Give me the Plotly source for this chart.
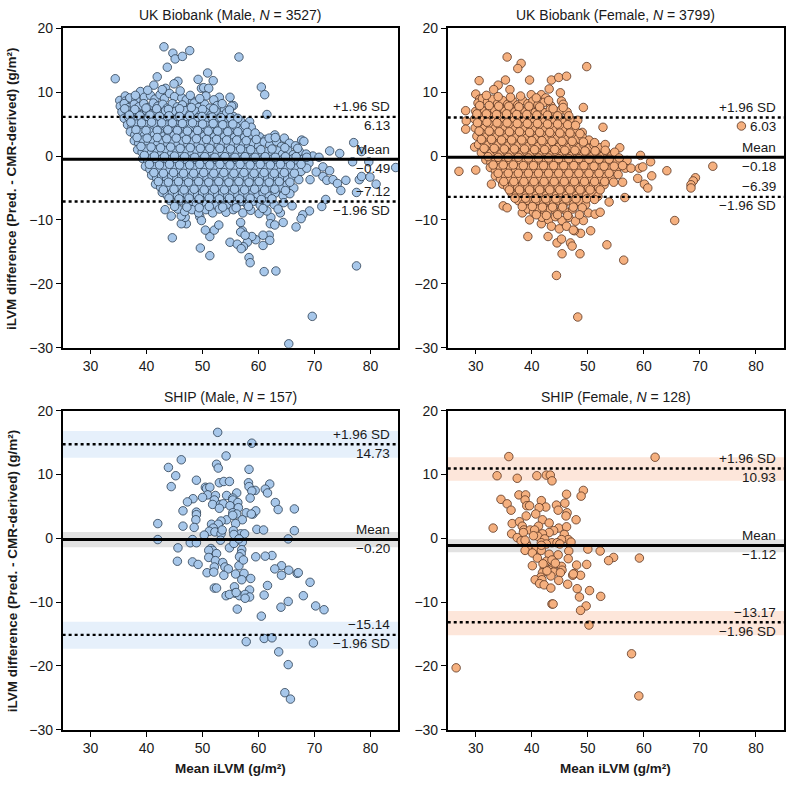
import plotly.graph_objects as go

# ---------------- DATA ----------------
panel_titles = ["UK Biobank (Male, <i>N</i> = 3527)", "UK Biobank (Female, <i>N</i> = 3799)",
                "SHIP (Male, <i>N</i> = 157)", "SHIP (Female, <i>N</i> = 128)"]
mean_diff = [-0.49, -0.18, -0.20, -1.12]
upper_loa = [6.13, 6.03, 14.73, 10.93]
lower_loa = [-7.12, -6.39, -15.14, -13.17]
# confidence bands (SHIP only): [lower, upper]
ship_m_bands = [[12.6, 16.8], [-1.4, 1.0], [-17.3, -13.1]]
ship_f_bands = [[9.0, 12.7], [-2.2, -0.15], [-15.2, -11.4]]
x_ticks = [30, 40, 50, 60, 70, 80]
y_ticks = [-30, -20, -10, 0, 10, 20]

ukb_male_points = [
    (34.4,12.1),(43.1,17.1),(44.7,16.1),(45.1,15.2),(46.4,15.6),(47.7,16.5),(43.7,13.9),(56.5,15.5),
    (41.9,12.4),(50.9,13.0),(49.2,12.0),(51.9,11.8),(45.6,11.7),(41.3,11.1),(60.5,10.8),(61.1,9.6),
    (49.8,10.6),(50.2,10.7),(51.1,10.6),(44.9,11.3),(43.4,10.6),(53.0,9.2),(54.9,9.2),(55.5,7.9),
    (61.5,6.5),(58.4,5.4),(58.7,4.5),(59.3,3.3),(62.9,3.3),(64.6,2.8),(67.7,2.5),(72.7,0.8),(74.5,0.4),
    (77.0,2.1),(78.4,0.7),(84.5,-1.8),(76.8,-0.9),(79.7,-0.9),(69.7,0.0),(70.8,-0.2),(71.5,-1.7),
    (70.3,-2.5),(72.7,-2.3),(71.5,-3.2),(72.2,-3.8),(73.3,-3.7),(74.1,-4.3),(75.6,-3.8),(74.7,-5.4),
    (78.0,-3.7),(77.5,-5.7),(78.4,-3.2),(79.9,-3.3),(81.0,-4.4),(69.2,-3.7),(72.0,-6.8),(71.3,-7.9),
    (69.1,-8.6),(67.9,-9.2),(67.6,-9.8),(66.7,-11.1),(64.4,-10.4),(63.9,-8.9),(62.2,-9.6),(62.1,-10.6),
    (62.9,-10.8),(61.9,-12.4),(60.8,-12.4),(62.0,-13.2),(60.8,-14.0),(59.5,-13.1),(58.8,-12.6),
    (58.0,-13.5),(57.3,-14.2),(58.3,-15.9),(58.5,-16.7),(61.0,-18.1),(63.1,-18.0),(77.5,-17.2),
    (69.6,-25.1),(65.4,-29.4),(56.8,-10.4),(57.1,-11.7),(56.8,-11.9),(57.6,-12.4),(54.9,-13.5),
    (56.2,-13.8),(56.9,-14.5),(51.3,-12.6),(52.1,-11.6),(50.5,-11.6),(49.6,-14.4),(51.3,-15.6),
    (44.6,-12.8),(52.9,-10.8),(47.1,-10.6),(46.2,-10.6),(46.9,-9.6),(46.2,-9.4),(44.4,-9.4),(43.3,-8.4),
    (49.5,-9.5),(49.8,-10.1),(35.2,8.7),(36.2,9.4),
    (36.2,8.6),(37.0,9.1),(38.1,8.8),(38.9,10.1),(39.6,9.2),(40.7,9.5),(41.5,8.9),(42.4,9.6),(43.2,9.0),
    (44.1,9.8),(45.0,9.3),(46.3,9.1),(47.1,8.8),(48.2,8.6),(50.6,9.4),(52.0,8.8),
    (35.3,7.8),(36.0,8.2),(36.9,7.6),(37.8,8.1),(38.6,7.7),(39.5,8.2),(40.3,7.6),(41.2,8.3),(42.0,7.8),
    (42.9,8.1),(43.7,7.5),(44.6,8.2),(45.5,7.7),(46.4,8.0),(47.6,7.4),(48.5,8.3),(49.3,7.6),(50.4,8.1),
    (51.3,7.5),(52.6,7.9),(53.9,7.2),(55.2,7.8),
    (35.6,6.9),(36.5,7.2),(37.3,6.6),(38.2,7.0),(39.1,6.5),(40.0,7.1),(40.8,6.6),(41.7,7.0),(42.6,6.5),
    (43.4,7.1),(44.3,6.6),(45.2,7.0),(46.0,6.5),(46.9,7.1),(47.8,6.6),(48.7,7.0),(49.6,6.4),(50.5,6.9),
    (51.5,6.4),(52.4,7.0),(53.4,6.3),(54.3,6.8),(55.5,6.2),
    (36.0,5.9),(36.8,6.1),(37.7,5.6),(38.5,6.0),(39.4,5.5),(40.3,6.1),(41.1,5.6),(42.0,6.0),(42.9,5.4),
    (43.8,5.9),(44.7,5.5),(45.6,6.0),(46.5,5.5),(47.4,5.9),(48.3,5.4),(49.2,6.0),(50.1,5.5),(51.0,5.9),
    (51.9,5.4),(52.8,5.8),(53.8,5.3),(54.7,5.7),(55.6,5.2),(56.8,5.5),
    (36.6,4.9),(37.4,4.5),(38.2,5.0),(39.0,4.4),(39.9,4.9),(40.8,4.5),(41.6,5.0),(42.5,4.4),(43.4,4.9),
    (44.3,4.4),(45.2,4.9),(46.1,4.5),(47.0,4.9),(47.9,4.4),(48.8,4.8),(49.7,4.3),(50.6,4.8),(51.5,4.3),
    (52.4,4.8),(53.3,4.2),(54.2,4.7),(55.1,4.2),(56.0,4.6),(57.0,4.1),
    (37.1,3.8),(37.9,3.3),(38.8,3.7),(39.6,3.2),(40.5,3.8),(41.4,3.3),(42.3,3.7),(43.1,3.1),(44.0,3.6),
    (44.9,3.2),(45.8,3.7),(46.7,3.1),(47.6,3.6),(48.5,3.2),(49.4,3.6),(50.3,3.1),(51.2,3.5),(52.1,3.0),
    (53.0,3.5),(53.9,3.0),(54.8,3.4),(55.7,2.9),(56.6,3.4),(57.5,2.9),(58.4,3.3),(60.2,3.0),(61.3,2.6),
    (37.8,2.4),(38.6,2.0),(39.4,2.5),(40.3,2.0),(41.2,2.4),(42.0,1.9),(42.9,2.4),(43.8,1.9),(44.7,2.3),
    (45.6,1.8),(46.5,2.3),(47.4,1.8),(48.3,2.2),(49.2,1.8),(50.1,2.2),(51.0,1.7),(51.9,2.2),(52.8,1.7),
    (53.7,2.1),(54.6,1.6),(55.5,2.1),(56.4,1.6),(57.3,2.0),(58.2,1.5),(59.1,2.0),(60.0,1.5),(61.0,2.2),
    (62.0,1.7),(63.2,2.3),(64.1,1.5),(65.5,2.0),(66.6,1.6),(68.1,2.3),
    (38.4,1.0),(39.2,0.6),(40.0,1.1),(40.9,0.5),(41.8,1.0),(42.7,0.4),(43.6,0.9),(44.5,0.4),(45.4,0.9),
    (46.3,0.3),(47.2,0.8),(48.1,0.3),(49.0,0.8),(49.9,0.3),(50.8,0.8),(51.7,0.2),(52.6,0.7),(53.5,0.2),
    (54.4,0.7),(55.3,0.2),(56.2,0.7),(57.1,0.2),(58.0,0.7),(58.9,0.1),(59.8,0.6),(60.7,0.1),(61.6,0.7),
    (62.5,0.2),(63.4,0.8),(64.3,0.3),(65.2,0.9),(66.2,0.2),(67.3,0.7),(68.5,0.3),
    (39.3,-0.4),(40.2,-0.8),(41.0,-0.3),(41.9,-0.9),(42.8,-0.4),(43.7,-0.9),(44.6,-0.4),(45.5,-1.0),
    (46.4,-0.5),(47.3,-1.0),(48.2,-0.4),(49.1,-1.0),(50.0,-0.5),(50.9,-1.0),(51.8,-0.4),(52.7,-1.0),
    (53.6,-0.5),(54.5,-1.0),(55.4,-0.4),(56.3,-1.0),(57.2,-0.5),(58.1,-1.0),(59.0,-0.4),(59.9,-1.0),
    (60.8,-0.5),(61.7,-1.0),(62.6,-0.4),(63.5,-1.0),(64.4,-0.5),(65.3,-1.0),(66.2,-0.4),(67.1,-1.0),
    (68.0,-0.5),(69.0,-1.1),
    (39.8,-1.6),(40.6,-2.1),(41.5,-1.7),(42.4,-2.2),(43.3,-1.7),(44.2,-2.2),(45.1,-1.7),(46.0,-2.3),
    (46.9,-1.8),(47.8,-2.3),(48.7,-1.8),(49.6,-2.3),(50.5,-1.8),(51.4,-2.3),(52.3,-1.8),(53.2,-2.3),
    (54.1,-1.8),(55.0,-2.3),(55.9,-1.8),(56.8,-2.3),(57.7,-1.8),(58.6,-2.3),(59.5,-1.8),(60.4,-2.3),
    (61.3,-1.8),(62.2,-2.3),(63.1,-1.8),(64.0,-2.3),(64.9,-1.8),(65.8,-2.4),(66.7,-1.9),(67.6,-2.4),
    (68.6,-1.9),
    (40.9,-3.0),(41.8,-3.5),(42.7,-3.1),(43.6,-3.6),(44.5,-3.1),(45.4,-3.6),(46.3,-3.1),(47.2,-3.6),
    (48.1,-3.1),(49.0,-3.6),(49.9,-3.1),(50.8,-3.6),(51.7,-3.1),(52.6,-3.6),(53.5,-3.1),(54.4,-3.6),
    (55.3,-3.1),(56.2,-3.6),(57.1,-3.1),(58.0,-3.6),(58.9,-3.1),(59.8,-3.6),(60.7,-3.1),(61.6,-3.6),
    (62.5,-3.1),(63.4,-3.6),(64.3,-3.1),(65.2,-3.6),(66.1,-3.1),(67.2,-3.7),
    (41.6,-4.4),(42.5,-4.9),(43.4,-4.4),(44.3,-4.9),(45.2,-4.4),(46.1,-4.9),(47.0,-4.4),(47.9,-4.9),
    (48.8,-4.4),(49.7,-4.9),(50.6,-4.4),(51.5,-4.9),(52.4,-4.4),(53.3,-4.9),(54.2,-4.4),(55.1,-4.9),
    (56.0,-4.4),(56.9,-4.9),(57.8,-4.4),(58.7,-4.9),(59.6,-4.4),(60.5,-4.9),(61.4,-4.4),(62.3,-4.9),
    (63.2,-4.4),(64.1,-4.9),(65.1,-4.5),(66.3,-5.0),
    (42.8,-5.7),(43.7,-6.2),(44.6,-5.7),(45.5,-6.2),(46.4,-5.7),(47.3,-6.2),(48.2,-5.7),(49.1,-6.2),
    (50.0,-5.7),(50.9,-6.2),(51.8,-5.7),(52.7,-6.2),(53.6,-5.7),(54.5,-6.2),(55.4,-5.7),(56.3,-6.2),
    (57.2,-5.7),(58.1,-6.2),(59.0,-5.7),(59.9,-6.2),(60.8,-5.8),(61.9,-6.3),(63.0,-5.8),(64.4,-6.2),
    (65.6,-5.9),
    (44.2,-7.0),(45.3,-7.5),(46.2,-7.0),(47.1,-7.6),(48.0,-7.1),(48.9,-7.6),(49.8,-7.0),(50.7,-7.5),
    (51.6,-7.0),(52.5,-7.6),(53.4,-7.1),(54.3,-7.6),(55.2,-7.0),(56.1,-7.5),(57.0,-7.1),(58.0,-7.6),
    (59.1,-7.1),(60.3,-7.7),(61.5,-7.2),(62.8,-7.6),(64.5,-7.3),(66.0,-7.8),
    (45.6,-8.3),(46.8,-8.7),(48.1,-8.4),(49.3,-8.9),(50.6,-8.4),(51.8,-8.9),(53.0,-8.3),(54.2,-8.8),
    (55.5,-8.4),(57.2,-8.9),(58.6,-8.5),(60.1,-9.0),(61.5,-8.6),
    # in-between points of the dense core
    (38.0,9.5),(40.2,10.3),(42.8,10.4),(46.0,10.2),(47.8,9.5),(49.5,9.0),(53.5,8.2),
    (36.1,7.4),(37.9,7.3),(39.9,7.5),(41.8,7.4),(43.9,7.3),(45.9,7.4),(48.0,7.6),(50.0,7.3),(52.0,7.4),(54.8,7.2),
    (36.9,6.4),(38.8,6.3),(40.6,6.4),(42.3,6.2),(44.0,6.3),(45.9,6.2),(47.7,6.3),(49.9,6.2),(51.7,6.1),
    (53.3,6.0),(55.0,6.0),(56.3,5.9),
    (37.2,5.3),(39.1,5.2),(40.9,5.3),(42.7,5.2),(44.6,5.2),(46.4,5.1),(48.2,5.2),(50.0,5.0),(51.9,5.1),
    (53.6,4.9),(55.4,5.0),(57.6,4.8),
    (38.1,4.1),(39.9,4.0),(41.9,4.0),(43.8,4.1),(45.5,4.0),(47.3,3.9),(49.1,4.0),(51.0,3.9),(52.7,3.9),
    (54.5,3.8),(56.3,3.8),(58.0,3.7),(59.4,3.6),
    (38.3,2.9),(40.1,2.8),(41.9,2.9),(43.6,2.7),(45.3,2.8),(47.1,2.6),(48.9,2.7),(50.7,2.6),(52.5,2.6),
    (54.3,2.5),(56.1,2.5),(57.8,2.4),(59.6,2.6),(61.9,2.8),(63.0,2.9),
    (39.0,1.5),(40.8,1.4),(42.5,1.3),(44.3,1.4),(46.0,1.2),(47.8,1.3),(49.6,1.2),(51.3,1.2),(53.1,1.2),
    (55.0,1.1),(56.8,1.1),(58.6,1.0),(60.4,1.0),(62.4,1.1),(64.7,1.3),(67.0,1.2),
    (39.6,0.1),(41.4,0.0),(43.2,-0.1),(45.0,0.0),(46.8,-0.1),(48.6,-0.2),(50.4,-0.1),(52.2,-0.2),
    (54.0,-0.1),(55.8,-0.2),(57.6,-0.1),(59.4,-0.2),(61.2,-0.1),(63.0,-0.2),(64.8,-0.1),(66.7,-0.1),(68.6,-0.2),
    (40.5,-1.3),(42.3,-1.4),(44.1,-1.3),(45.9,-1.4),(47.7,-1.4),(49.5,-1.3),(51.3,-1.4),(53.1,-1.3),
    (54.9,-1.4),(56.7,-1.3),(58.5,-1.4),(60.3,-1.3),(62.1,-1.4),(63.9,-1.3),(65.7,-1.4),(67.6,-1.3),
    (41.3,-2.6),(43.0,-2.7),(44.8,-2.6),(46.6,-2.7),(48.4,-2.7),(50.2,-2.6),(52.0,-2.7),(53.8,-2.6),
    (55.6,-2.7),(57.4,-2.6),(59.2,-2.7),(61.0,-2.6),(62.8,-2.7),(64.6,-2.6),(66.4,-2.7),
    (42.1,-4.0),(43.9,-4.1),(45.7,-4.0),(47.5,-4.1),(49.3,-4.0),(51.1,-4.1),(52.9,-4.0),(54.7,-4.1),
    (56.5,-4.0),(58.3,-4.1),(60.1,-4.0),(61.9,-4.1),(63.7,-4.0),(65.6,-4.1),
    (43.0,-5.3),(44.9,-5.2),(46.7,-5.3),(48.5,-5.2),(50.3,-5.3),(52.1,-5.2),(53.9,-5.3),(55.7,-5.2),
    (57.5,-5.3),(59.3,-5.2),(61.1,-5.3),(62.9,-5.2),(64.8,-5.4),
    (44.0,-6.6),(45.8,-6.7),(47.6,-6.6),(49.4,-6.7),(51.2,-6.6),(53.0,-6.7),(54.8,-6.6),(56.6,-6.7),
    (58.5,-6.6),(60.5,-6.8),(62.4,-6.7),
    (45.0,-7.9),(47.2,-8.0),(49.4,-8.1),(51.2,-7.9),(53.6,-8.0),(56.0,-8.1),(58.2,-7.9),(60.8,-8.2),(63.5,-8.3),
]

ukb_female_points = [
    (35.6,15.5),(38.1,14.5),(37.5,13.7),(49.8,14.0),(30.6,11.8),(35.3,11.9),(39.6,11.9),(43.5,11.9),
    (44.8,12.3),(46.2,12.5),(34.0,11.1),(36.1,10.4),(33.2,10.4),(43.1,10.5),(45.1,9.9),(39.9,9.6),
    (41.7,9.6),(42.5,9.1),(45.3,8.6),(45.6,8.1),(49.2,7.6),(28.2,7.1),(28.3,5.5),(28.2,4.2),(48.2,5.6),
    (52.7,4.5),(49.0,3.7),(29.8,1.4),(27.0,-2.4),(55.7,1.3),(59.4,0.1),(61.2,-0.9),(57.0,-0.7),
    (56.7,-1.9),(57.7,-1.9),(59.2,-1.9),(59.8,-1.7),(61.4,-3.1),(64.1,-2.3),(72.3,-1.6),(77.4,4.7),
    (58.9,-3.5),(60.1,-4.4),(60.7,-5.0),(69.2,-3.4),(68.8,-3.9),(68.4,-4.5),(68.4,-5.0),(56.6,-6.5),
    (56.2,-4.1),(65.5,-10.1),(53.4,-13.9),(56.4,-16.3),(48.6,-15.3),(45.4,-15.3),(44.4,-18.7),
    (48.2,-25.2),(39.3,-12.6),(42.9,-12.6),(44.5,-13.6),(45.3,-13.0),(46.9,-13.6),(47.2,-14.1),
    (48.7,-12.1),(50.5,-11.7),(47.6,-11.7),(41.7,-10.6),(39.6,-10.0),(49.2,-10.1),(50.1,-8.9),
    (51.3,-9.1),(52.2,-8.8),(53.8,-7.2),(34.9,-7.8),(35.6,-8.1),(32.8,-4.4),(38.3,-8.9),(41.1,-6.1),
    (30.0,-2.2),(30.0,9.7),(30.7,8.9),
    (30.4,8.3),(31.2,9.0),(32.1,8.5),(33.0,8.9),(33.9,8.2),(34.8,8.7),(35.7,8.1),(36.6,8.6),(37.5,8.0),
    (38.4,8.7),(39.3,8.2),(40.2,8.6),(41.1,8.0),(42.2,8.4),(43.4,7.9),
    (30.0,7.0),(30.8,7.5),(31.6,7.0),(32.5,7.6),(33.4,7.1),(34.3,7.6),(35.2,7.0),(36.1,7.5),(37.0,6.9),
    (37.9,7.4),(38.8,6.9),(39.7,7.4),(40.6,6.8),(41.5,7.3),(42.4,6.8),(43.3,7.3),(44.2,6.8),(45.2,7.2),
    (46.3,6.9),
    (29.8,5.8),(30.6,6.2),(31.5,5.7),(32.4,6.2),(33.3,5.7),(34.2,6.2),(35.1,5.6),(36.0,6.1),(36.9,5.6),
    (37.8,6.1),(38.7,5.5),(39.6,6.0),(40.5,5.5),(41.4,6.0),(42.3,5.4),(43.2,5.9),(44.1,5.4),(45.0,5.9),
    (45.9,5.4),(46.8,5.8),
    (29.9,4.4),(30.7,4.9),(31.6,4.4),(32.5,4.9),(33.4,4.3),(34.3,4.8),(35.2,4.3),(36.1,4.8),(37.0,4.2),
    (37.9,4.7),(38.8,4.2),(39.7,4.7),(40.6,4.1),(41.5,4.6),(42.4,4.1),(43.3,4.6),(44.2,4.0),(45.1,4.5),
    (46.0,4.0),(46.9,4.4),(47.8,3.9),
    (30.2,3.1),(31.0,3.6),(31.9,3.0),(32.8,3.5),(33.7,3.0),(34.6,3.5),(35.5,2.9),(36.4,3.4),(37.3,2.9),
    (38.2,3.4),(39.1,2.8),(40.0,3.3),(40.9,2.8),(41.8,3.3),(42.7,2.7),(43.6,3.2),(44.5,2.7),(45.4,3.2),
    (46.3,2.6),(47.2,3.1),(48.1,2.6),(49.0,3.0),(50.2,2.5),
    (30.5,1.8),(31.3,2.3),(32.2,1.7),(33.1,2.2),(34.0,1.7),(34.9,2.2),(35.8,1.6),(36.7,2.1),(37.6,1.6),
    (38.5,2.1),(39.4,1.5),(40.3,2.0),(41.2,1.5),(42.1,2.0),(43.0,1.4),(43.9,1.9),(44.8,1.4),(45.7,1.9),
    (46.6,1.3),(47.5,1.8),(48.4,1.3),(49.3,1.8),(50.2,1.2),(51.1,1.7),(52.2,1.3),(53.1,1.8),
    (31.0,0.5),(31.8,1.0),(32.7,0.4),(33.6,0.9),(34.5,0.3),(35.4,0.8),(36.3,0.3),(37.2,0.8),(38.1,0.2),
    (39.0,0.7),(39.9,0.2),(40.8,0.7),(41.7,0.1),(42.6,0.6),(43.5,0.1),(44.4,0.6),(45.3,0.0),(46.2,0.5),
    (47.1,0.0),(48.0,0.5),(48.9,-0.1),(49.8,0.4),(50.7,-0.1),(51.6,0.4),(52.5,-0.1),(53.4,0.5),(54.2,0.0),
    (31.8,-0.6),(32.7,-1.0),(33.6,-0.5),(34.5,-1.0),(35.4,-0.5),(36.3,-1.0),(37.2,-0.5),(38.1,-1.0),
    (39.0,-0.5),(39.9,-1.0),(40.8,-0.5),(41.7,-1.1),(42.6,-0.6),(43.5,-1.1),(44.4,-0.6),(45.3,-1.1),
    (46.2,-0.6),(47.1,-1.1),(48.0,-0.6),(48.9,-1.1),(49.8,-0.6),(50.7,-1.1),(51.6,-0.6),(52.5,-1.1),
    (53.4,-0.6),(54.3,-1.2),(55.2,-0.8),
    (32.6,-1.8),(33.5,-2.3),(34.4,-1.8),(35.3,-2.3),(36.2,-1.8),(37.1,-2.3),(38.0,-1.8),(38.9,-2.3),
    (39.8,-1.8),(40.7,-2.3),(41.6,-1.8),(42.5,-2.3),(43.4,-1.8),(44.3,-2.3),(45.2,-1.8),(46.1,-2.3),
    (47.0,-1.8),(47.9,-2.3),(48.8,-1.8),(49.7,-2.3),(50.6,-1.8),(51.5,-2.3),(52.4,-1.8),(53.3,-2.3),
    (54.2,-1.9),(55.1,-2.4),
    (33.5,-3.1),(34.4,-3.6),(35.3,-3.1),(36.2,-3.6),(37.1,-3.1),(38.0,-3.6),(38.9,-3.1),(39.8,-3.6),
    (40.7,-3.1),(41.6,-3.6),(42.5,-3.1),(43.4,-3.6),(44.3,-3.1),(45.2,-3.6),(46.1,-3.1),(47.0,-3.6),
    (47.9,-3.1),(48.8,-3.6),(49.7,-3.1),(50.6,-3.6),(51.5,-3.1),(52.4,-3.6),(53.3,-3.2),(54.3,-3.7),
    (34.8,-4.4),(35.7,-4.9),(36.6,-4.4),(37.5,-4.9),(38.4,-4.4),(39.3,-4.9),(40.2,-4.4),(41.1,-4.9),
    (42.0,-4.4),(42.9,-4.9),(43.8,-4.4),(44.7,-4.9),(45.6,-4.4),(46.5,-4.9),(47.4,-4.4),(48.3,-4.9),
    (49.2,-4.4),(50.1,-4.9),(51.0,-4.4),(51.9,-4.9),(52.9,-4.5),
    (36.3,-5.7),(37.2,-6.2),(38.1,-5.7),(39.0,-6.2),(39.9,-5.7),(40.8,-6.2),(41.7,-5.7),(42.6,-6.2),
    (43.5,-5.7),(44.4,-6.2),(45.3,-5.7),(46.2,-6.2),(47.1,-5.7),(48.0,-6.2),(48.9,-5.7),(49.8,-6.2),
    (50.8,-5.8),(51.8,-6.3),
    (37.6,-7.0),(38.5,-7.5),(39.4,-7.0),(40.3,-7.5),(41.2,-7.0),(42.1,-7.5),(43.0,-7.0),(43.9,-7.5),
    (44.8,-7.0),(45.7,-7.5),(46.6,-7.0),(47.5,-7.5),(48.5,-7.1),(49.6,-7.6),
    (39.3,-8.3),(40.3,-8.8),(41.3,-8.3),(42.3,-8.8),(43.3,-8.3),(44.3,-8.8),(45.3,-8.3),(46.3,-8.8),
    (47.3,-8.3),
    (41.8,-9.6),(43.0,-10.0),(44.2,-9.5),(45.4,-10.1),(46.6,-9.6),(47.8,-10.2),
    (43.5,-11.0),(44.9,-11.4),(46.2,-11.0),(47.4,-11.6),
    # in-between points of the dense core
    (31.9,9.5),(34.0,9.3),(36.2,9.2),(38.0,9.4),(40.8,9.1),(43.0,8.7),
    (30.7,7.9),(32.4,7.9),(34.1,7.8),(35.9,7.8),(37.7,7.7),(39.5,7.8),(41.4,7.7),(43.8,7.4),(45.6,7.6),
    (30.2,6.6),(31.9,6.6),(33.7,6.5),(35.5,6.6),(37.3,6.5),(39.1,6.5),(40.9,6.4),(42.8,6.4),(44.6,6.3),(46.6,6.3),
    (30.3,5.2),(32.0,5.3),(33.8,5.2),(35.6,5.2),(37.4,5.1),(39.2,5.1),(41.0,5.1),(42.8,5.0),(44.6,5.0),
    (46.4,4.9),(47.8,4.8),
    (30.6,3.9),(32.4,3.9),(34.2,3.8),(36.0,3.8),(37.8,3.8),(39.6,3.7),(41.4,3.7),(43.2,3.7),(45.0,3.6),
    (46.8,3.6),(48.6,3.5),
    (31.0,2.6),(32.8,2.6),(34.6,2.5),(36.4,2.5),(38.2,2.5),(40.0,2.4),(41.8,2.4),(43.6,2.3),(45.4,2.3),
    (47.2,2.3),(49.2,2.2),(51.2,2.1),
    (31.5,1.2),(33.3,1.2),(35.1,1.1),(36.9,1.1),(38.7,1.1),(40.5,1.0),(42.3,1.0),(44.1,1.0),(45.9,0.9),
    (47.7,0.9),(49.5,0.8),(51.3,0.8),(53.1,0.9),(54.8,0.6),
    (32.2,-0.1),(34.0,-0.2),(35.8,-0.2),(37.6,-0.2),(39.4,-0.3),(41.2,-0.3),(43.0,-0.3),(44.8,-0.4),
    (46.6,-0.4),(48.4,-0.4),(50.2,-0.5),(52.0,-0.5),(53.8,-0.5),(55.6,-0.3),
    (33.1,-1.4),(34.9,-1.4),(36.7,-1.4),(38.5,-1.5),(40.3,-1.5),(42.1,-1.5),(43.9,-1.5),(45.7,-1.5),
    (47.5,-1.5),(49.3,-1.5),(51.1,-1.6),(52.9,-1.6),(54.7,-1.6),(56.2,-1.5),
    (34.0,-2.7),(35.8,-2.7),(37.6,-2.7),(39.4,-2.7),(41.2,-2.7),(43.0,-2.7),(44.8,-2.7),(46.6,-2.7),
    (48.4,-2.7),(50.2,-2.7),(52.0,-2.7),(53.8,-2.7),(55.4,-2.9),
    (35.0,-4.0),(36.8,-4.0),(38.6,-4.0),(40.4,-4.0),(42.2,-4.0),(44.0,-4.0),(45.8,-4.0),(47.6,-4.0),
    (49.4,-4.0),(51.2,-4.0),(53.0,-4.0),(54.6,-4.1),
    (36.0,-5.3),(37.8,-5.3),(39.6,-5.3),(41.4,-5.3),(43.2,-5.3),(45.0,-5.3),(46.8,-5.3),(48.6,-5.3),
    (50.4,-5.3),(52.2,-5.3),
    (37.0,-6.6),(38.9,-6.6),(40.7,-6.7),(42.5,-6.7),(44.3,-6.7),(46.1,-6.7),(47.9,-6.7),(49.8,-6.7),(51.2,-6.8),
    (38.3,-7.9),(40.1,-7.9),(41.9,-8.0),(43.7,-8.0),(45.5,-8.0),(47.4,-8.0),(49.0,-8.1),
    (40.8,-9.2),(42.6,-9.3),(44.6,-9.2),(46.4,-9.3),(48.5,-9.2),
]

ship_male_points = [
    (52.7,16.6),(58.8,14.9),(54.2,12.9),(46.2,12.3),(52.5,11.6),(52.8,11.0),(43.9,11.1),(45.2,9.8),
    (58.3,10.8),(48.9,9.1),(53.0,8.7),(53.8,8.9),(54.8,8.9),(44.4,8.1),(58.2,8.7),(58.3,8.1),(62.0,8.5),
    (50.5,8.0),(50.7,7.8),(51.3,8.0),(61.2,7.7),(59.4,7.5),(58.8,7.4),(61.6,7.1),(56.1,7.1),(50.9,6.8),
    (52.3,6.7),(54.3,6.7),(50.0,6.4),(48.3,6.2),(55.4,6.3),(58.5,6.3),(47.3,5.7),(52.1,6.0),(55.4,6.0),
    (63.0,5.6),(56.3,5.6),(51.8,5.3),(53.2,5.3),(53.7,5.4),(54.9,5.1),(56.4,4.8),(53.0,4.7),(63.5,4.5),
    (66.4,4.6),(46.5,4.3),(48.9,4.1),(48.9,3.7),(55.4,4.0),(56.1,3.8),(57.8,4.0),(59.0,3.8),(59.5,4.3),
    (58.7,3.8),(48.8,2.9),(54.3,2.9),(57.1,2.9),(55.9,2.3),(53.3,2.7),(51.6,2.2),(52.8,2.2),(42.0,2.3),
    (46.5,1.9),(48.5,1.7),(51.9,1.6),(59.7,1.4),(60.9,1.3),(66.4,1.2),(51.2,1.1),(52.2,1.0),(55.5,1.2),
    (56.8,0.7),(57.5,0.7),(50.3,0.5),(53.3,0.7),(55.6,0.6),(42.0,-0.2),(48.2,-0.2),(47.8,-0.7),
    (48.9,-0.7),(53.2,-0.3),(57.1,-0.6),(65.3,-0.1),(54.8,-1.5),(45.6,-1.5),(51.5,-1.6),(51.8,-1.9),
    (51.1,-1.9),(57.0,-1.8),(56.9,-2.4),(52.5,-2.4),(62.4,-2.7),(61.2,-2.8),(51.1,-3.0),(56.6,-2.9),
    (59.5,-2.9),(52.3,-3.5),(45.5,-3.6),(48.2,-3.7),(49.2,-4.1),(53.6,-3.8),(52.1,-4.5),(54.0,-4.5),
    (54.6,-4.8),(56.5,-4.3),(64.1,-4.3),(62.9,-4.8),(65.4,-5.0),(50.8,-5.4),(52.0,-5.3),(55.9,-5.6),
    (57.4,-5.5),(53.8,-5.8),(64.1,-5.8),(66.9,-5.5),(67.1,-5.4),(57.0,-6.5),(58.6,-6.3),(69.2,-6.9),
    (52.1,-7.8),(52.5,-7.8),(61.6,-7.4),(55.7,-7.6),(58.4,-8.1),(55.8,-8.6),(56.6,-9.0),(57.6,-8.8),
    (54.2,-9.0),(54.8,-8.8),(58.4,-9.2),(57.6,-9.4),(61.0,-8.9),(68.0,-9.0),(56.2,-11.1),(65.3,-9.9),
    (70.2,-10.6),(71.7,-11.2),(64.0,-10.8),(60.5,-12.2),(57.8,-16.2),(61.0,-15.7),(62.4,-15.6),
    (69.8,-16.4),(63.6,-17.8),(65.3,-19.8),(64.7,-24.2),(65.7,-25.2),(55.4,3.6),(55.6,-0.8),
    (56.5,-0.1),(57.3,-3.4),(56.0,-8.5),(53.5,1.3),
]

ship_female_points = [
    (35.9,12.8),(62.0,12.7),(33.8,9.8),(37.4,9.4),(40.9,9.8),(42.6,9.9),(43.3,9.9),(43.6,9.0),(49.2,7.5),
    (48.8,6.6),(46.2,6.9),(37.7,6.8),(38.9,6.8),(34.5,6.1),(38.8,6.0),(41.7,5.9),(35.6,5.4),(39.1,5.1),
    (39.6,5.1),(44.4,5.2),(45.9,5.5),(42.5,4.9),(41.3,4.8),(36.3,4.4),(44.7,4.4),(46.3,4.0),(46.1,3.5),
    (40.7,3.8),(39.0,3.5),(47.9,2.9),(41.9,2.9),(36.5,2.3),(37.8,2.6),(43.1,2.4),(38.3,1.9),(41.2,1.9),
    (44.8,1.6),(46.2,1.8),(33.1,1.6),(38.6,1.3),(39.7,1.3),(40.5,1.3),(43.9,1.2),(38.5,0.9),(36.4,0.7),
    (43.1,0.9),(41.9,0.7),(45.8,0.6),(41.1,0.3),(37.4,0.1),(42.3,-0.1),(46.5,-0.2),(45.3,-0.2),
    (38.1,-0.4),(41.7,-0.7),(43.6,-0.7),(44.5,-0.7),(39.0,-0.8),(42.6,-0.9),(39.3,-1.3),(40.8,-1.7),
    (41.7,-1.9),(38.8,-1.9),(50.0,-1.7),(52.2,-2.0),(46.6,-2.0),(40.1,-2.3),(44.7,-2.6),(43.1,-2.5),
    (41.0,-3.1),(46.5,-3.2),(54.6,-3.0),(53.7,-3.5),(59.2,-3.1),(42.6,-3.6),(43.6,-3.4),(49.8,-4.1),
    (48.0,-4.2),(40.1,-4.3),(42.3,-4.4),(45.3,-4.4),(42.2,-4.8),(43.7,-4.7),(43.1,-5.0),(43.9,-5.3),
    (45.4,-5.0),(45.1,-5.4),(41.9,-5.4),(47.6,-5.5),(47.3,-5.8),(48.7,-5.8),(41.6,-6.1),(43.4,-5.9),
    (40.6,-6.5),(41.8,-6.5),(44.8,-6.6),(41.4,-7.1),(42.2,-7.3),(46.4,-7.2),(43.4,-7.8),(48.1,-7.9),
    (50.3,-8.2),(48.5,-9.2),(52.3,-9.1),(43.6,-10.3),(43.8,-10.3),(49.7,-10.6),(48.7,-11.3),
    (50.2,-13.6),(57.8,-18.1),(26.5,-20.3),(59.1,-24.7),(38.8,-0.3),(41.7,-1.1),(42.7,-5.1),
    (47.4,-5.6),(45.0,-0.9),(42.0,-4.0),(44.2,-3.9),(40.3,0.4),(47.0,-0.6),
]

# ---------------- STYLE ----------------
BLUE_FILL, BLUE_EDGE = "#a7c7ea", "#2b3d52"
ORANGE_FILL, ORANGE_EDGE = "#f5b07f", "#5a3521"
BAND_BLUE, BAND_GRAY, BAND_ORANGE = "#e6f0fb", "#e2e2e2", "#fde6da"
FONT = "Liberation Sans, Arial, sans-serif"
TXT = "#1a1a1a"

datasets = [ukb_male_points, ukb_female_points, ship_male_points, ship_female_points]
fills = [BLUE_FILL, ORANGE_FILL, BLUE_FILL, ORANGE_FILL]
edges = [BLUE_EDGE, ORANGE_EDGE, BLUE_EDGE, ORANGE_EDGE]

W, H = 786, 787
px_x = [(62.7, 399.0), (448.3, 785.0), (62.7, 399.0), (448.3, 785.0)]
px_y = [(20.7, 346.7), (20.7, 346.7), (411.0, 736.7), (411.0, 736.7)]

fig = go.Figure()
layout = dict(width=W, height=H, margin=dict(l=0, r=0, t=0, b=0),
              paper_bgcolor="white", plot_bgcolor="white", showlegend=False,
              font=dict(family=FONT, size=13, color=TXT))
shapes, annotations = [], []

for i in range(4):
    n = "" if i == 0 else str(i + 1)
    xa, ya = "x" + n, "y" + n
    pts = datasets[i]
    fig.add_trace(go.Scatter(
        x=[p[0] for p in pts], y=[p[1] for p in pts], mode="markers",
        xaxis=xa, yaxis=ya,
        marker=dict(size=8.5, color=fills[i], line=dict(color=edges[i], width=0.8))))
    xd = [px_x[i][0] / W, px_x[i][1] / W]
    yd = [1 - px_y[i][1] / H, 1 - px_y[i][0] / H]
    axcommon = dict(showline=True, linecolor="black", linewidth=1.6, mirror=True,
                    ticks="outside", ticklen=5, tickwidth=1.4, tickcolor="black",
                    showgrid=False, zeroline=False, tickfont=dict(size=14, color=TXT))
    layout["xaxis" + n] = dict(domain=xd, anchor=ya, range=[25, 85], tickvals=x_ticks, **axcommon)
    layout["yaxis" + n] = dict(domain=yd, anchor=xa, range=[-30, 20], tickvals=y_ticks, **axcommon)

    xdom = xa + " domain"
    if i >= 2:
        bands = ship_m_bands if i == 2 else ship_f_bands
        bcol = BAND_BLUE if i == 2 else BAND_ORANGE
        for k, b in enumerate(bands):
            shapes.append(dict(type="rect", xref=xdom, yref=ya, x0=0, x1=1, y0=b[0], y1=b[1],
                               fillcolor=BAND_GRAY if k == 1 else bcol, line=dict(width=0),
                               layer="below"))
    shapes.append(dict(type="line", xref=xdom, yref=ya, x0=0, x1=1, y0=mean_diff[i], y1=mean_diff[i],
                       line=dict(color="black", width=3)))
    for v in (upper_loa[i], lower_loa[i]):
        shapes.append(dict(type="line", xref=xdom, yref=ya, x0=0, x1=1, y0=v, y1=v,
                           line=dict(color="black", width=2.4, dash="3px,3px")))
    labs = [("+1.96 SD", upper_loa[i], 10), (f"{upper_loa[i]:.2f}", upper_loa[i], -9),
            ("Mean", mean_diff[i], 10), (f"{mean_diff[i]:.2f}".replace("-", "\u2212"), mean_diff[i], -9),
            (f"{lower_loa[i]:.2f}".replace("-", "\u2212"), lower_loa[i], 10), ("\u22121.96 SD", lower_loa[i], -9)]
    for t, v, sh in labs:
        annotations.append(dict(text=t, xref=xdom, yref=ya, x=1, y=v, xanchor="right", yanchor="middle",
                                xshift=-6, yshift=sh, showarrow=False, font=dict(size=13.5, color=TXT)))
    annotations.append(dict(text=panel_titles[i], xref="paper", yref="paper",
                            x=(xd[0] + xd[1]) / 2, y=1 - (7 if i < 2 else 397) / H,
                            xanchor="center", yanchor="middle", showarrow=False,
                            font=dict(size=14, color=TXT)))

ytitle = "iLVM difference (Pred. - CMR-derived) (g/m\u00b2)"
for yc in (183.7, 573.9):
    annotations.append(dict(text=ytitle, xref="paper", yref="paper", x=12 / W, y=1 - yc / H,
                            textangle=-90, xanchor="center", yanchor="middle", showarrow=False,
                            font=dict(size=13.5, color=TXT, weight="bold")))
xtitle = "Mean iLVM (g/m\u00b2)"
for xc in (230.9, 616.6):
    annotations.append(dict(text=xtitle, xref="paper", yref="paper", x=xc / W, y=1 - 776 / H,
                            xanchor="center", yanchor="middle", showarrow=False,
                            font=dict(size=13.5, color=TXT, weight="bold")))

layout["shapes"] = shapes
layout["annotations"] = annotations
fig.update_layout(**layout)
fig.write_html("out.html")
